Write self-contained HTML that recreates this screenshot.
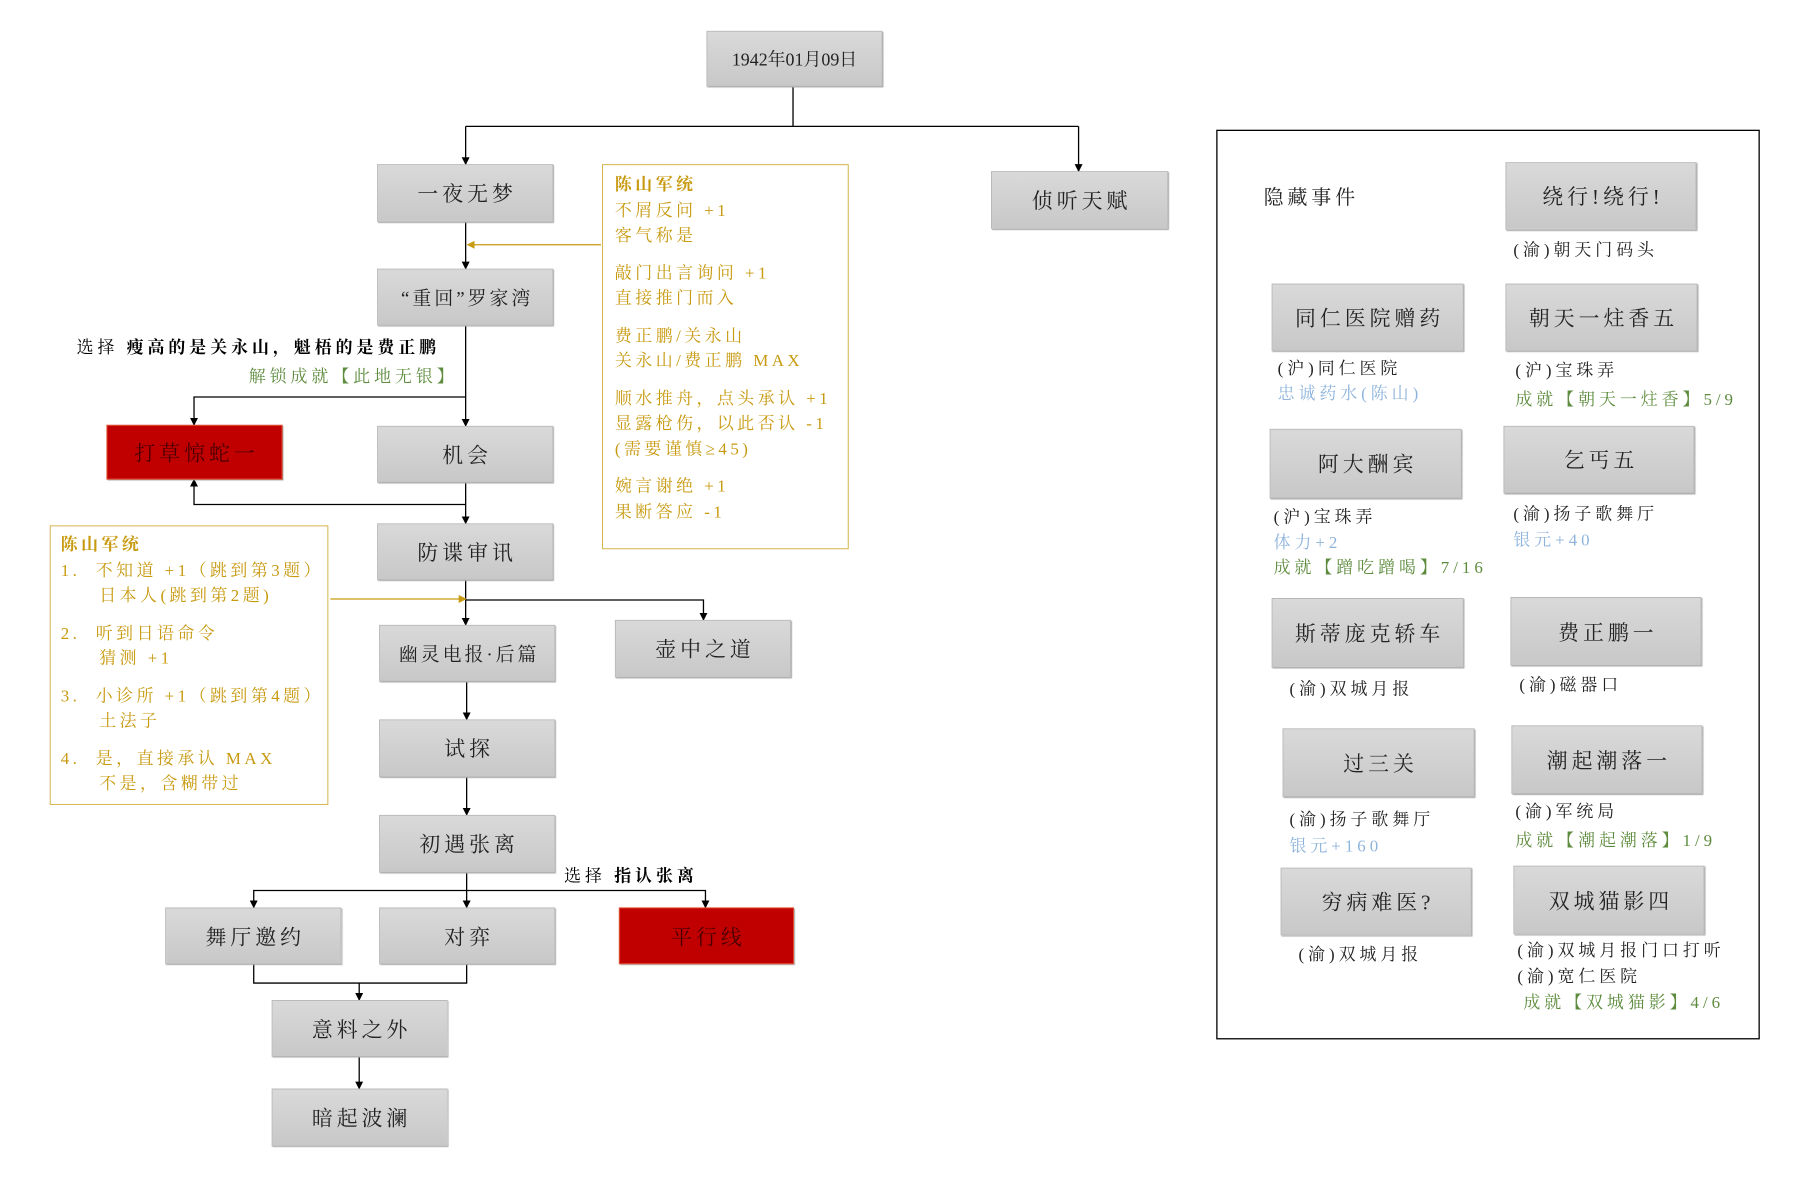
<!DOCTYPE html>
<html><head><meta charset="utf-8"><style>
body{margin:0;background:#fff;}
#w{width:1813px;height:1200px;overflow:hidden;position:relative;}
#c{position:relative;width:1813px;height:1200px;transform:scale(0.995);transform-origin:0 0;font-family:"Liberation Serif","Noto Serif CJK SC",serif;}
.b{position:absolute;box-sizing:border-box;background:linear-gradient(#d9d9d9,#c8c8c8);border:1px solid #b8b8b8;box-shadow:1px 1px 1px #aaa;display:flex;align-items:center;justify-content:center;font-size:21px;color:#222;letter-spacing:4px;padding-left:4px;}
.r{background:#c00000;border:1px solid #e05030;color:#4a0000;}
.t{position:absolute;white-space:nowrap;font-size:17px;line-height:20px;color:#222;letter-spacing:4px;}
.o{color:#c89a10;}
.g{color:#5e8c3e;}
.bl{color:#8fb4dc;}
.ob{position:absolute;box-sizing:border-box;border:1.5px solid #d4b44a;background:#fff;}
.ob div{white-space:nowrap;font-size:17px;color:#c89a10;letter-spacing:3.5px;}
</style></head><body><div id="w"><div id="c">
<svg width="1813" height="1200" style="position:absolute;left:0;top:0">
<defs><marker id="a" markerWidth="8" markerHeight="8" refX="7" refY="4" orient="auto" markerUnits="userSpaceOnUse"><path d="M0,0 L8,4 L0,8z" fill="#000"/></marker>
<marker id="ao" markerWidth="8" markerHeight="8" refX="7" refY="4" orient="auto" markerUnits="userSpaceOnUse"><path d="M0,0 L8,4 L0,8z" fill="#c89a10"/></marker></defs>
<g stroke="#000" stroke-width="1.3" fill="none">
<path d="M797,87 V127 M468,127 H1084"/>
<path d="M468,127 V165" marker-end="url(#a)"/>
<path d="M1084,127 V172" marker-end="url(#a)"/>
<path d="M468,223 V270" marker-end="url(#a)"/>
<path d="M468,327 V428" marker-end="url(#a)"/>
<path d="M468,399 H195 V427" marker-end="url(#a)"/>
<path d="M468,485 V526" marker-end="url(#a)"/>
<path d="M468,507 H195 V482" marker-end="url(#a)"/>
<path d="M468,583 V628" marker-end="url(#a)"/>
<path d="M468,603 H707 V623" marker-end="url(#a)"/>
<path d="M469,685 V723" marker-end="url(#a)"/>
<path d="M469,781 V819" marker-end="url(#a)"/>
<path d="M469,877 V912" marker-end="url(#a)"/>
<path d="M469,895 H255 V912" marker-end="url(#a)"/>
<path d="M469,895 H709 V912" marker-end="url(#a)"/>
<path d="M255,969 V988 H469 V969 M361,988 V1005" marker-end="url(#a)"/>
<path d="M361,1062 V1094" marker-end="url(#a)"/>
<rect x="1223" y="131" width="545" height="913" stroke-width="1.3"/>
</g>
<g stroke="#c89a10" stroke-width="1.3" fill="none">
<path d="M604,246 H470" marker-end="url(#ao)"/>
<path d="M332,602 H468" marker-end="url(#ao)"/>
</g>
</svg>
<div class="b" style="left:710px;top:31px;width:177px;height:56px;font-size:18px;letter-spacing:0;padding:0">1942年01月09日</div>
<div class="b" style="left:379px;top:165px;width:177px;height:58px">一夜无梦</div>
<div class="b" style="left:996px;top:172px;width:178px;height:58px">侦听天赋</div>
<div class="b" style="left:379px;top:270px;width:177px;height:57px;font-size:19px;letter-spacing:3px">“重回”罗家湾</div>
<div class="b r" style="left:107px;top:427px;width:177px;height:55px">打草惊蛇一</div>
<div class="b" style="left:379px;top:428px;width:177px;height:57px">机会</div>
<div class="b" style="left:379px;top:526px;width:177px;height:57px">防谍审讯</div>
<div class="b" style="left:381px;top:628px;width:177px;height:57px;font-size:19px;letter-spacing:3px">幽灵电报·后篇</div>
<div class="b" style="left:618px;top:623px;width:177px;height:58px">壶中之道</div>
<div class="b" style="left:381px;top:723px;width:177px;height:58px">试探</div>
<div class="b" style="left:381px;top:819px;width:177px;height:58px">初遇张离</div>
<div class="b" style="left:166px;top:912px;width:177px;height:57px">舞厅邀约</div>
<div class="b" style="left:381px;top:912px;width:177px;height:57px">对弈</div>
<div class="b r" style="left:622px;top:912px;width:176px;height:57px">平行线</div>
<div class="b" style="left:273px;top:1005px;width:177px;height:57px">意料之外</div>
<div class="b" style="left:273px;top:1094px;width:177px;height:58px">暗起波澜</div>

<div class="t" style="left:77px;top:340px;color:#000">选择 <b>瘦高的是关永山，魁梧的是费正鹏</b></div>
<div class="t g" style="left:250px;top:369px">解锁成就【此地无银】</div>
<div class="t" style="left:567px;top:871px;color:#000">选择 <b>指认张离</b></div>

<div class="ob" style="left:605px;top:165px;width:248px;height:387px;padding:7px 0 0 12px;line-height:25.5px">
<div><b>陈山军统</b></div><div>不屑反问 +1</div><div>客气称是</div><div style="height:12px"></div>
<div>敲门出言询问 +1</div><div>直接推门而入</div><div style="height:12px"></div>
<div>费正鹏/关永山</div><div>关永山/费正鹏 MAX</div><div style="height:12px"></div>
<div>顺水推舟，点头承认 +1</div><div>显露枪伤，以此否认 -1</div><div>(需要谨慎≥45)</div><div style="height:12px"></div>
<div>婉言谢绝 +1</div><div>果断答应 -1</div></div>

<div class="ob" style="left:50px;top:528px;width:280px;height:281px;padding:6px 0 0 10px;line-height:25.5px">
<div><b>陈山军统</b></div><div>1.&nbsp; 不知道 +1（跳到第3题）</div><div>&nbsp;&nbsp;&nbsp;&nbsp; 日本人(跳到第2题)</div><div style="height:12px"></div>
<div>2.&nbsp; 听到日语命令</div><div>&nbsp;&nbsp;&nbsp;&nbsp; 猜测 +1</div><div style="height:12px"></div>
<div>3.&nbsp; 小诊所 +1（跳到第4题）</div><div>&nbsp;&nbsp;&nbsp;&nbsp; 土法子</div><div style="height:12px"></div>
<div>4.&nbsp; 是，直接承认 MAX</div><div>&nbsp;&nbsp;&nbsp;&nbsp; 不是，含糊带过</div></div>

<div class="t" style="left:1270px;top:187px;font-size:20px;line-height:24px">隐藏事件</div>
<div class="b" style="left:1513px;top:163px;width:192px;height:68px">绕行!绕行!</div>
<div class="t" style="left:1521px;top:242px">(渝)朝天门码头</div>
<div class="b" style="left:1278px;top:285px;width:193px;height:68px">同仁医院赠药</div>
<div class="t" style="left:1284px;top:361px">(沪)同仁医院</div>
<div class="t bl" style="left:1284px;top:386px">忠诚药水(陈山)</div>
<div class="b" style="left:1513px;top:285px;width:193px;height:68px">朝天一炷香五</div>
<div class="t" style="left:1523px;top:363px">(沪)宝珠弄</div>
<div class="t g" style="left:1523px;top:392px">成就【朝天一炷香】5/9</div>
<div class="b" style="left:1276px;top:431px;width:193px;height:70px">阿大酬宾</div>
<div class="t" style="left:1280px;top:510px">(沪)宝珠弄</div>
<div class="t bl" style="left:1280px;top:536px">体力+2</div>
<div class="t g" style="left:1280px;top:561px">成就【蹭吃蹭喝】7/16</div>
<div class="b" style="left:1511px;top:428px;width:192px;height:68px">乞丐五</div>
<div class="t" style="left:1521px;top:507px">(渝)扬子歌舞厅</div>
<div class="t bl" style="left:1521px;top:533px">银元+40</div>
<div class="b" style="left:1278px;top:601px;width:193px;height:70px">斯蒂庞克轿车</div>
<div class="t" style="left:1296px;top:683px">(渝)双城月报</div>
<div class="b" style="left:1518px;top:600px;width:192px;height:69px">费正鹏一</div>
<div class="t" style="left:1527px;top:679px">(渝)磁器口</div>
<div class="b" style="left:1289px;top:732px;width:193px;height:69px">过三关</div>
<div class="t" style="left:1296px;top:814px">(渝)扬子歌舞厅</div>
<div class="t bl" style="left:1296px;top:841px">银元+160</div>
<div class="b" style="left:1519px;top:729px;width:192px;height:69px">潮起潮落一</div>
<div class="t" style="left:1523px;top:806px">(渝)军统局</div>
<div class="t g" style="left:1523px;top:835px">成就【潮起潮落】1/9</div>
<div class="b" style="left:1287px;top:872px;width:192px;height:68px">穷病难医?</div>
<div class="t" style="left:1305px;top:950px">(渝)双城月报</div>
<div class="b" style="left:1521px;top:870px;width:192px;height:69px">双城猫影四</div>
<div class="t" style="left:1525px;top:946px">(渝)双城月报门口打听</div>
<div class="t" style="left:1525px;top:972px">(渝)宽仁医院</div>
<div class="t g" style="left:1531px;top:998px">成就【双城猫影】4/6</div>
</div></div></body></html>
